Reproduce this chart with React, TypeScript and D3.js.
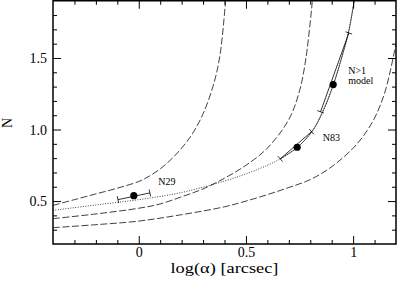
import React, { useRef, useEffect } from "react";
import * as d3 from "d3";

// curves, as [log(alpha), N]
const curveA: [number, number][] = [
  [-0.4, 0.47], [-0.3, 0.51], [-0.2, 0.55], [-0.1, 0.59], [0, 0.637], [0.05, 0.675],
  [0.1, 0.725], [0.15, 0.79], [0.2, 0.87], [0.25, 0.97], [0.3, 1.11], [0.35, 1.32],
  [0.38, 1.53], [0.405, 1.9],
];
const curveB: [number, number][] = [
  [-0.4, 0.377], [-0.2, 0.41], [0, 0.45], [0.1, 0.48], [0.2, 0.53], [0.3, 0.585],
  [0.4, 0.66], [0.5, 0.75], [0.6, 0.87], [0.7, 1.07], [0.75, 1.27], [0.78, 1.5],
  [0.81, 1.9],
];
const curveC: [number, number][] = [
  [-0.4, 0.314], [-0.2, 0.335], [0, 0.36], [0.2, 0.405], [0.4, 0.46], [0.5, 0.5],
  [0.6, 0.545], [0.7, 0.595], [0.8, 0.65], [0.9, 0.74], [1.0, 0.87], [1.05, 0.96],
  [1.1, 1.08], [1.15, 1.27], [1.2, 1.6],
];
// N>1 model curve
const modelCurve: [number, number][] = [
  [-0.4, 0.435], [-0.2, 0.473], [0, 0.51], [0.2, 0.56], [0.4, 0.64], [0.5, 0.69],
  [0.6, 0.75], [0.66, 0.795], [0.74, 0.876], [0.81, 0.99], [0.86, 1.13],
  [0.907, 1.31], [0.95, 1.52], [0.98, 1.69], [1.005, 1.9],
];
const modelSolidFrom = 0.66;

// objects: point and the two ends of the error bar
const objects = [
  { name: "N29", p: [-0.023, 0.538], lo: [-0.097, 0.51], hi: [0.052, 0.557] },
  { name: "N83", p: [0.739, 0.876], lo: [0.66, 0.795], hi: [0.806, 0.985] },
  { name: "N>1", p: [0.907, 1.314], lo: [0.848, 1.124], hi: [0.98, 1.675] },
];
const labels = [
  { text: "N29", at: [0.091, 0.612] },
  { text: "N83", at: [0.858, 0.922] },
  { text: "N>1", at: [0.977, 1.385] },
  { text: "model", at: [0.977, 1.315] },
];

const xMajor = [0, 0.5, 1];
const xMinor = [-0.3, -0.2, -0.1, 0.1, 0.2, 0.3, 0.4, 0.6, 0.7, 0.8, 0.9, 1.1];
const yMajor = [0.5, 1.0, 1.5];
const yMinor = [0.3, 0.4, 0.6, 0.7, 0.8, 0.9, 1.1, 1.2, 1.3, 1.4, 1.6, 1.7, 1.8];

const W = 397;
const H = 281;
const font = "Liberation Serif, serif";

const App = () => {
  const ref = useRef<SVGSVGElement>(null);

  useEffect(() => {
    const svg = d3.select(ref.current);
    svg.selectAll("*").remove();

    const left = 53, right = 396, top = 0.75, bottom = 244;
    const x = d3.scaleLinear().domain([-0.4, 1.2]).range([left, right]);
    const y = d3.scaleLinear().domain([0.2, 1.9]).range([bottom, top]);

    svg.append("clipPath").attr("id", "plot")
      .append("rect").attr("x", left).attr("y", top)
      .attr("width", right - left).attr("height", bottom - top);

    const line = d3.line<[number, number]>()
      .x((d) => x(d[0]))
      .y((d) => y(d[1]))
      .curve(d3.curveCatmullRom.alpha(0.5));

    const g = svg.append("g").attr("clip-path", "url(#plot)");
    [curveA, curveB, curveC].forEach((c) => {
      g.append("path").attr("d", line(c)).attr("fill", "none")
        .attr("stroke", "#000").attr("stroke-width", 0.75)
        .attr("stroke-dasharray", "7,2.5");
    });
    g.append("path").attr("d", line(modelCurve)).attr("fill", "none")
      .attr("stroke", "#000").attr("stroke-width", 0.75)
      .attr("stroke-dasharray", "1,1.5");
    g.append("path").attr("d", line(modelCurve.filter((d) => d[0] >= modelSolidFrom)))
      .attr("fill", "none").attr("stroke", "#000").attr("stroke-width", 0.6);

    // error bars with perpendicular caps
    objects.forEach((o) => {
      const x1 = x(o.lo[0]), y1 = y(o.lo[1]);
      const x2 = x(o.hi[0]), y2 = y(o.hi[1]);
      const len = Math.hypot(x2 - x1, y2 - y1);
      const nx = (-(y2 - y1) / len) * 3.5, ny = ((x2 - x1) / len) * 3.5;
      const bar = g.append("g").attr("stroke", "#000").attr("stroke-width", 0.8);
      bar.append("line").attr("x1", x1).attr("y1", y1).attr("x2", x2).attr("y2", y2);
      [[x1, y1], [x2, y2]].forEach(([cx, cy]) => {
        bar.append("line").attr("x1", cx - nx).attr("y1", cy - ny)
          .attr("x2", cx + nx).attr("y2", cy + ny);
      });
      g.append("circle").attr("cx", x(o.p[0])).attr("cy", y(o.p[1]))
        .attr("r", 3.6).attr("fill", "#000");
    });

    labels.forEach((l) => {
      svg.append("text").attr("x", x(l.at[0])).attr("y", y(l.at[1]))
        .style("font-family", font).style("font-size", "10px").attr("fill", "#000")
        .text(l.text);
    });

    // axes, ticks pointing inward
    const styleAxis = (sel: any) => {
      sel.attr("font-family", null).attr("font-size", null);
      sel.select(".domain").remove();
      sel.selectAll("line").attr("stroke", "#000").attr("stroke-width", 1);
      sel.selectAll("text").attr("fill", "#000")
        .style("font-family", font).style("font-size", "14px");
    };
    const none = () => "";

    svg.append("g").attr("transform", `translate(0,${bottom})`)
      .call(d3.axisBottom(x).tickValues(xMajor).tickSize(-8).tickPadding(3)
        .tickFormat((d) => d3.format("")(d as number)))
      .call(styleAxis);
    svg.append("g").attr("transform", `translate(0,${bottom})`)
      .call(d3.axisBottom(x).tickValues(xMinor).tickSize(-4).tickFormat(none))
      .call(styleAxis);
    svg.append("g").attr("transform", `translate(0,${top})`)
      .call(d3.axisTop(x).tickValues(xMajor).tickSize(-8).tickFormat(none))
      .call(styleAxis);
    svg.append("g").attr("transform", `translate(0,${top})`)
      .call(d3.axisTop(x).tickValues(xMinor).tickSize(-4).tickFormat(none))
      .call(styleAxis);

    svg.append("g").attr("transform", `translate(${left},0)`)
      .call(d3.axisLeft(y).tickValues(yMajor).tickSize(-8).tickPadding(6)
        .tickFormat((d) => d3.format(".1f")(d as number)))
      .call(styleAxis);
    svg.append("g").attr("transform", `translate(${left},0)`)
      .call(d3.axisLeft(y).tickValues(yMinor).tickSize(-4).tickFormat(none))
      .call(styleAxis);
    svg.append("g").attr("transform", `translate(${right},0)`)
      .call(d3.axisRight(y).tickValues(yMajor).tickSize(-8).tickFormat(none))
      .call(styleAxis);
    svg.append("g").attr("transform", `translate(${right},0)`)
      .call(d3.axisRight(y).tickValues(yMinor).tickSize(-4).tickFormat(none))
      .call(styleAxis);

    svg.append("rect").attr("x", left).attr("y", top)
      .attr("width", right - left).attr("height", bottom - top)
      .attr("fill", "none").attr("stroke", "#000").attr("stroke-width", 1.5);

    svg.append("text").attr("x", (left + right) / 2).attr("y", 273)
      .attr("text-anchor", "middle").style("font-family", font).style("font-size", "15px")
      .attr("textLength", 108).attr("lengthAdjust", "spacingAndGlyphs")
      .attr("fill", "#000").text("log(α)  [arcsec]");

    svg.append("text").attr("transform", "translate(11.7,123) rotate(-90)")
      .attr("text-anchor", "middle").style("font-family", font).style("font-size", "14px")
      .attr("fill", "#000").text("N");
  }, []);

  return (
    <div style={{ position: "absolute", left: 0, top: 0 }}>
      <svg ref={ref} width={W} height={H} style={{ display: "block", background: "#fff" }} />
    </div>
  );
};

export default App;
